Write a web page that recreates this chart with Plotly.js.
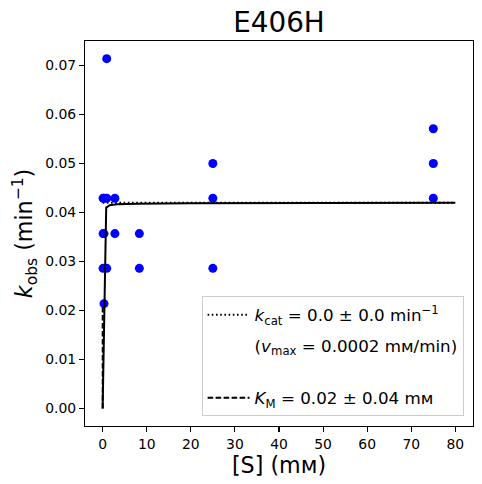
<!DOCTYPE html>
<html>
<head>
<meta charset="utf-8">
<script src="https://cdn.plot.ly/plotly-3.0.1.min.js"></script>
<style>html,body{margin:0;padding:0;background:#fff;}#chart{width:482px;height:484px;}</style>
</head>
<body>
<div id="chart"></div>
<script>
// Measured substrate concentrations [S] (mM) and observed rates k_obs (min^-1)
var substrateConc = [0.103, 0.103, 0.103, 0.309, 0.309, 0.309, 0.926, 0.926, 0.926, 2.78, 2.78, 8.33, 8.33, 25, 25, 25, 75, 75, 75];
var kobsValues    = [0.0429, 0.0357, 0.0286, 0.0429, 0.0357, 0.0214, 0.0714, 0.0429, 0.0286, 0.0429, 0.0357, 0.0357, 0.0286, 0.0500, 0.0429, 0.0286, 0.0571, 0.0500, 0.0429];

// Fitted Michaelis-Menten curve
var fitX = [0, 0.81, 1.62, 3.2, 8, 20, 80];
var fitY = [0, 0.0410, 0.0415, 0.0417, 0.0418, 0.0419, 0.0420];

// kcat (plateau) guide line and KM guide line
var kcatLineX = [0, 80];
var kcatLineY = [0.042, 0.042];
var kmLineX = [0.02, 0.02];
var kmLineY = [0, 0.021];

// Axis ticks
var xTicks = [0, 10, 20, 30, 40, 50, 60, 70, 80];
var yTicks = [0, 0.01, 0.02, 0.03, 0.04, 0.05, 0.06, 0.07];

// Legend labels
var kcatLabel = '<i>k</i><sub>cat</sub> = 0.0 ± 0.0 min<sup>−1</sup>';
var vmaxLabel = '(<i>v</i><sub>max</sub> = 0.0002 m\u1D0D/min)<br>\u00a0';
var kmLabel = '<i>K</i><sub>M</sub> = 0.02 ± 0.04 m\u1D0D';

var FONT = 'DejaVu Sans, sans-serif';

var traces = [
  {x: kcatLineX, y: kcatLineY, mode: 'lines', line: {color: 'black', width: 2, dash: '1.6px,2.6px'},
   name: kcatLabel, legendgroup: 'a', legendrank: 1},
  {x: kmLineX, y: kmLineY, mode: 'lines', line: {color: 'black', width: 2, dash: '5.6px,2.4px'},
   name: kmLabel, legendgroup: 'd', legendrank: 4},
  {x: substrateConc, y: kobsValues, mode: 'markers', marker: {color: '#0000ff', size: 9},
   showlegend: false},
  {x: fitX, y: fitY, mode: 'lines', line: {color: 'black', width: 2}, showlegend: false},
  {x: [null], y: [null], mode: 'lines', line: {color: 'rgba(0,0,0,0)', width: 0},
   name: vmaxLabel, legendgroup: 'b', legendrank: 2}
];

var axisCommon = {
  showgrid: false, zeroline: false, showline: true, mirror: true,
  linecolor: 'black', linewidth: 1.1, ticks: 'outside', ticklen: 5, tickwidth: 1.1,
  tickcolor: 'black', tickfont: {family: FONT, size: 13.9, color: 'black'}
};

var layout = {
  width: 482, height: 484,
  margin: {l: 85, r: 9, t: 41, b: 58, pad: 0},
  paper_bgcolor: 'white', plot_bgcolor: 'white',
  font: {family: FONT, color: 'black'},
  title: {text: 'E406H', font: {family: FONT, size: 27.8, color: 'black'},
          x: 0.5, xref: 'paper', y: 1 - 22.5 / 484, yref: 'container', yanchor: 'middle'},
  xaxis: Object.assign({}, axisCommon, {
    range: [-4, 84], tickvals: xTicks, ticktext: xTicks.map(String),
    title: {text: '[S] (m\u1D0D)', font: {family: FONT, size: 22.2, color: 'black'}, standoff: 5}
  }),
  yaxis: Object.assign({}, axisCommon, {
    range: [-0.00357, 0.075], tickvals: yTicks, tickformat: '.2f',
    title: {text: '<i>k</i><sub>obs</sub> (min<sup>−1</sup>)', font: {family: FONT, size: 22.2, color: 'black'}, standoff: 6}
  }),
  showlegend: true,
  legend: {
    x: 0.3005, y: 0.025, xanchor: 'left', yanchor: 'bottom',
    bgcolor: 'rgba(255,255,255,0.8)', bordercolor: '#cccccc', borderwidth: 1,
    font: {family: FONT, size: 16.7, color: 'black'},
    tracegroupgap: 6, traceorder: 'grouped', itemwidth: 42, valign: 'middle'
  }
};

Plotly.newPlot('chart', traces, layout, {displayModeBar: false, staticPlot: true});
</script>
</body>
</html>
